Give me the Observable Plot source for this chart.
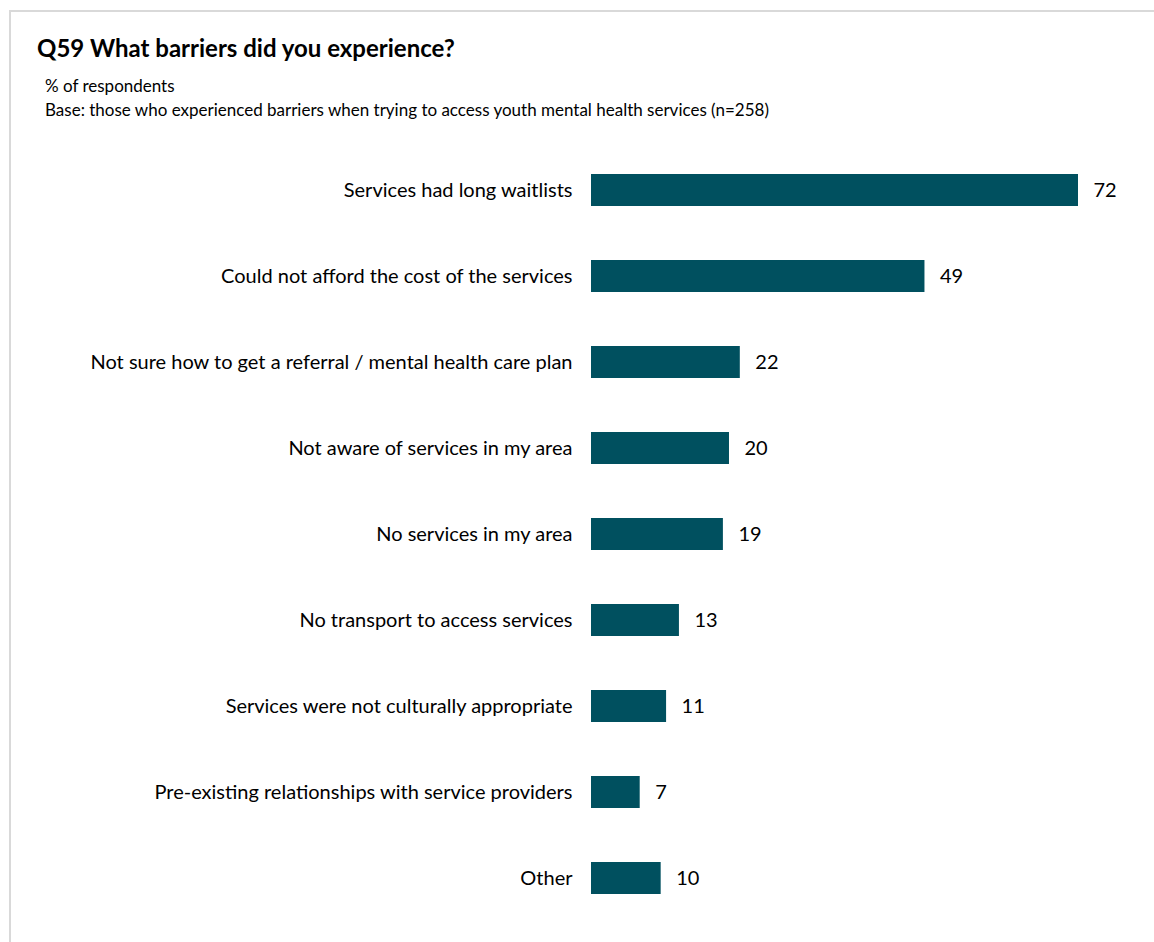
<!DOCTYPE html>
<html>
<head>
<meta charset="utf-8">
<script src="https://cdn.jsdelivr.net/npm/d3@7"></script>
<script src="https://cdn.jsdelivr.net/npm/@observablehq/plot@0.6"></script>
<style>
  html, body { margin: 0; padding: 0; background: #fff; overflow: hidden; }
  body { width: 1154px; height: 942px; position: relative; font-family: Lato, "Open Sans", sans-serif; color: #000; }
  #frame { position: absolute; left: 9px; top: 10px; width: 1300px; height: 1100px; border: 2px solid #d9d9d9; box-sizing: border-box; pointer-events: none; }
  #header { position: relative; height: 130px; }
  #title { position: absolute; left: 37px; top: 33px; font-size: 24px; font-weight: bold; }
  #sub1 { position: absolute; left: 45px; top: 75px; font-size: 17px; }
  #sub2 { position: absolute; left: 45px; top: 99px; font-size: 17px; }
  #chart svg { display: block; }
</style>
</head>
<body>
<div id="frame"></div>
<div id="header">
  <div id="title">Q59 What barriers did you experience?</div>
  <div id="sub1">% of respondents</div>
  <div id="sub2">Base: those who experienced barriers when trying to access youth mental health services (n=258)</div>
</div>
<div id="chart"></div>
<script>
const categories = [
  "Services had long waitlists",
  "Could not afford the cost of the services",
  "Not sure how to get a referral / mental health care plan",
  "Not aware of services in my area",
  "No services in my area",
  "No transport to access services",
  "Services were not culturally appropriate",
  "Pre-existing relationships with service providers",
  "Other"
];
const values = [72, 49.3, 22, 20.4, 19.5, 13, 11.1, 7.2, 10.3];
const valueLabels = ["72", "49", "22", "20", "19", "13", "11", "7", "10"];

const data = categories.map((c, i) => ({category: c, value: values[i], label: valueLabels[i]}));

const chart = Plot.plot({
  width: 1154,
  height: 812,
  marginLeft: 591,
  marginRight: 76,
  marginTop: 26,
  marginBottom: 31,
  style: {fontFamily: "Lato, 'Open Sans', sans-serif", fontSize: "20px", color: "#000", background: "#fff"},
  x: {domain: [0, 72], axis: null},
  y: {domain: categories, paddingInner: 0.628, paddingOuter: 0.2, label: null},
  marks: [
    Plot.barX(data, {x: "value", y: "category", fill: "#00505f"}),
    Plot.text(data, {x: "value", y: "category", text: "label", textAnchor: "start", dx: 15, fill: "#000", fontSize: 20}),
    Plot.axisY({tickSize: 0, tickPadding: 19, label: null, fontSize: 20, fill: "#000"})
  ]
});
document.getElementById("chart").appendChild(chart);
</script>
</body>
</html>
